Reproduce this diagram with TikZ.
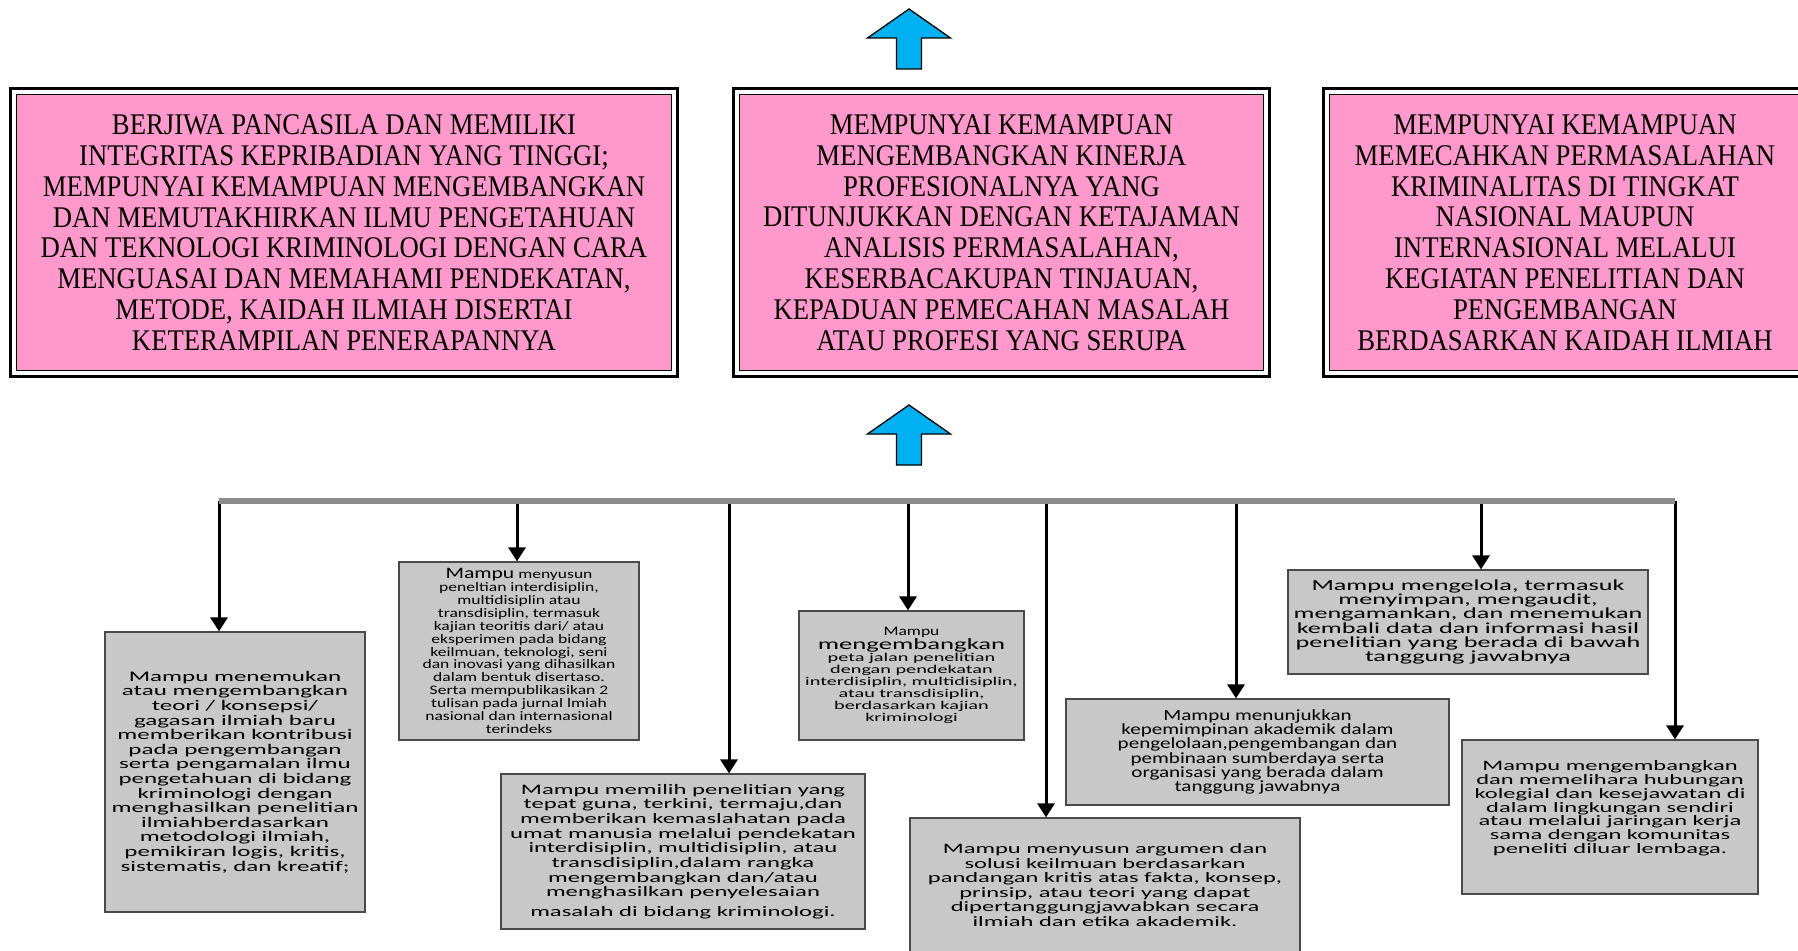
\documentclass[tikz,border=0pt]{standalone}
\usepackage{fontspec}
\usepackage{tikz}
\usetikzlibrary{arrows.meta}
\newfontfamily\capsfont[FakeStretch=0.89]{Liberation Serif}
\newfontfamily\cellfont[FakeStretch=1.7]{Carlito}
\newfontfamily\cellnarrow[FakeStretch=1.35,NFSSFamily=cellnarrowfam]{Carlito}
\definecolor{pinkfill}{HTML}{FF99CC}
\definecolor{cellgray}{HTML}{C8C8C8}
\definecolor{cellborder}{HTML}{4A4A4A}
\definecolor{arrowblue}{HTML}{00B0F0}
\definecolor{bargray}{HTML}{8C8C8C}
\newcommand{\fs}[2]{\fontsize{#1}{#2}\selectfont}

\begin{document}
\begin{tikzpicture}[x=1pt,y=-1pt,
    >={Triangle[length=14pt,width=17pt]},
    goal/.style={draw=black, line width=1.4pt, fill=pinkfill, inner sep=0pt,
      align=center, minimum height=276, font=\capsfont\fs{30}{30.8}},
    frame/.style={draw=black, line width=3.5pt},
    cell/.style={draw=cellborder, line width=1.2pt, fill=cellgray, inner sep=2pt,
      align=center},
    feed/.style={->, line width=3pt},
    bar/.style={draw=bargray, line width=6pt},
    bluearrow/.pic={
      \draw[fill=arrowblue, line width=1.3pt, line join=miter]
        (0,0) -- (41.5,29) -- (12.5,29) -- (12.5,60) -- (-12.5,60)
        -- (-12.5,29) -- (-41.5,29) -- cycle;
    }]
  \clip (0,0) rectangle (1798,950);

  % blue arrows
  \pic at (909,9) {bluearrow};
  \pic at (909,405) {bluearrow};

  % goals
  \node[goal, minimum width=655] (p1) at (344,232.5) {BERJIWA PANCASILA DAN MEMILIKI\\
    INTEGRITAS KEPRIBADIAN YANG TINGGI;\\
    MEMPUNYAI KEMAMPUAN MENGEMBANGKAN\\
    DAN MEMUTAKHIRKAN ILMU PENGETAHUAN\\
    DAN TEKNOLOGI KRIMINOLOGI DENGAN CARA\\
    MENGUASAI DAN MEMAHAMI PENDEKATAN,\\
    METODE, KAIDAH ILMIAH DISERTAI\\
    KETERAMPILAN PENERAPANNYA};
  \node[goal, minimum width=524] (p2) at (1001.5,232.5) {MEMPUNYAI KEMAMPUAN\\
    MENGEMBANGKAN KINERJA\\
    PROFESIONALNYA YANG\\
    DITUNJUKKAN DENGAN KETAJAMAN\\
    ANALISIS PERMASALAHAN,\\
    KESERBACAKUPAN TINJAUAN,\\
    KEPADUAN PEMECAHAN MASALAH\\
    ATAU PROFESI YANG SERUPA};
  \node[goal, minimum width=471] (p3) at (1565,232.5) {MEMPUNYAI KEMAMPUAN\\
    MEMECAHKAN PERMASALAHAN\\
    KRIMINALITAS DI TINGKAT\\
    NASIONAL MAUPUN\\
    INTERNASIONAL MELALUI\\
    KEGIATAN PENELITIAN DAN\\
    PENGEMBANGAN\\
    BERDASARKAN KAIDAH ILMIAH};
  \foreach \n in {p1,p2,p3}
    \draw[frame] ([shift={(-5.5pt,5.5pt)}]\n.north west) rectangle ([shift={(5.5pt,-5.5pt)}]\n.south east);

  % abilities
  \node[cell, minimum width=260, minimum height=280, font=\cellfont\fs{14.7}{14.6}] (g1) at (235,772) {Mampu menemukan\\
    atau mengembangkan\\
    teori / konsepsi/\\
    gagasan ilmiah baru\\
    memberikan kontribusi\\
    pada pengembangan\\
    serta pengamalan ilmu\\
    pengetahuan di bidang\\
    kriminologi dengan\\
    menghasilkan penelitian\\
    ilmiahberdasarkan\\
    metodologi ilmiah,\\
    pemikiran logis, kritis,\\
    sistematis, dan kreatif;};
  \node[cell, minimum width=240, minimum height=178, font=\cellnarrow\fs{13}{12.9}] (g2) at (519,651) {{\fs{16}{12.9}Mampu} menyusun\\
    peneltian interdisiplin,\\
    multidisiplin atau\\
    transdisiplin, termasuk\\
    kajian teoritis dari/ atau\\
    eksperimen pada bidang\\
    keilmuan, teknologi, seni\\
    dan inovasi yang dihasilkan\\
    dalam bentuk disertaso.\\
    Serta mempublikasikan 2\\
    tulisan pada jurnal lmiah\\
    nasional dan internasional\\
    terindeks};
  \node[cell, minimum width=364, minimum height=155, font=\cellfont\fs{14.5}{14.6}] (g3) at (683,851.5) {Mampu memilih penelitian yang\\
    tepat guna, terkini, termaju,dan\\
    memberikan kemaslahatan pada\\
    umat manusia melalui pendekatan\\
    interdisiplin, multidisiplin, atau\\
    transdisiplin,dalam rangka\\
    mengembangkan dan/atau\\
    menghasilkan penyelesaian\\[5pt]
    masalah di bidang kriminologi.};
  \node[cell, minimum width=225, minimum height=129, font=\cellfont\fs{11.9}{12.1}] (g4) at (911.5,675.5) {{\cellnarrow\fs{13}{12.1}Mampu}\\
    {\fs{15.7}{14}mengembangkan}\\
    peta jalan penelitian\\
    dengan pendekatan\\
    interdisiplin, multidisiplin,\\
    atau transdisiplin,\\
    berdasarkan kajian\\
    kriminologi};
  \node[cell, minimum width=390, minimum height=134, font=\cellfont\fs{14.4}{14.5}] (g5) at (1105,885) {Mampu menyusun argumen dan\\
    solusi keilmuan berdasarkan\\
    pandangan kritis atas fakta, konsep,\\
    prinsip, atau teori yang dapat\\
    dipertanggungjawabkan secara\\
    ilmiah dan etika akademik.};
  \node[cell, minimum width=383, minimum height=106, font=\cellnarrow\fs{15.6}{14.2}] (g6) at (1257.5,752) {Mampu menunjukkan\\
    kepemimpinan akademik dalam\\
    pengelolaan,pengembangan dan\\
    pembinaan sumberdaya serta\\
    organisasi yang berada dalam\\
    tanggung jawabnya};
  \node[cell, minimum width=360, minimum height=104, font=\cellfont\fs{15.4}{14.3}] (g7) at (1468,622) {Mampu mengelola, termasuk\\
    menyimpan, mengaudit,\\
    mengamankan, dan menemukan\\
    kembali data dan informasi hasil\\
    penelitian yang berada di bawah\\
    tanggung jawabnya};
  \node[cell, minimum width=296, minimum height=154, font=\cellfont\fs{14.4}{13.9}] (g8) at (1610,817) {Mampu mengembangkan\\
    dan memelihara hubungan\\
    kolegial dan kesejawatan di\\
    dalam lingkungan sendiri\\
    atau melalui jaringan kerja\\
    sama dengan komunitas\\
    peneliti diluar lembaga.\\[6pt]\mbox{}};

  % bar and arrows
  \coordinate (t1) at (219,501);
  \coordinate (t2) at (517,501);
  \coordinate (t3) at (729,501);
  \coordinate (t4) at (908,501);
  \coordinate (t5) at (1046,501);
  \coordinate (t6) at (1236,501);
  \coordinate (t7) at (1481,501);
  \coordinate (t8) at (1675,501);
  \foreach \i in {1,...,8}
    \draw[feed] (t\i) -- (t\i |- g\i.north);
  \draw[bar] (t1) -- (t8);
\end{tikzpicture}
\end{document}
